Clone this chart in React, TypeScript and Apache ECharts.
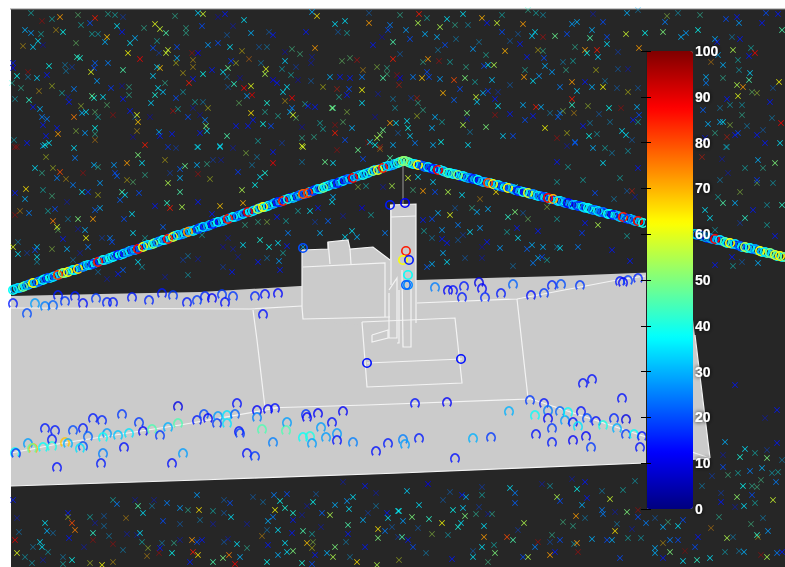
import React, { useEffect, useRef } from "react";
import * as echarts from "echarts";

type P = number[];

const barTicks = [0, 100];
const jetColors = ["#00007f", "#0000ff", "#007fff", "#00ffff", "#7fff7f", "#ffff00", "#ff7f00", "#ff0000", "#7f0000"];

const plotArea: P[] = [[11, 9], [785, 9], [785, 567], [11, 567]];
const frameLine: P[] = [[10, 9], [785, 9]];
const mastLine: P[] = [[403, 160], [403, 205]];
const groundArea: P[] = [[11, 296], [100, 294], [200, 292], [300, 286], [417, 280], [560, 276], [687, 271], [710, 458], [645, 463], [400, 473], [200, 480], [11, 486]];
const blockArea: P[] = [[302, 250], [328, 249], [328, 242], [348, 240], [350, 249], [373, 247], [390, 260], [390, 205], [416, 204], [416, 330], [302, 320]];

const whiteLines: P[][] = [
  [[11, 486], [200, 480], [400, 473], [645, 463], [710, 458]],
  [[11, 308], [250, 309], [302, 306]],
  [[417, 303], [517, 299], [617, 280], [645, 276]],
  [[253, 310], [257, 340], [265, 408]],
  [[517, 299], [528, 398]],
  [[265, 408], [367, 405], [530, 399]],
  [[11, 453], [63, 443], [180, 425], [277, 408]],
  [[528, 398], [640, 435], [710, 458]],
  [[695, 335], [710, 458]],
  [[362, 322], [455, 318], [462, 383], [367, 387], [362, 322]],
  [[367, 363], [462, 359]],
  [[390, 205], [416, 204], [416, 323]],
  [[391, 217], [416, 216]],
  [[391, 205], [391, 285]],
  [[402, 270], [403, 347], [411, 347], [411, 280]],
  [[389, 293], [389, 338], [397, 338], [397, 278], [389, 290]],
  [[397, 343], [399, 343], [399, 290]],
  [[372, 335], [388, 330], [388, 338], [372, 342], [372, 335]],
  [[302, 250], [328, 249], [328, 242], [348, 240], [350, 249], [373, 247], [390, 260]],
  [[302, 250], [302, 307], [303, 319], [390, 317]],
  [[303, 267], [385, 263], [385, 317]],
  [[328, 242], [330, 264]],
  [[350, 249], [351, 264]],
];

const crossBright: P[] = [
  [60,17,72],[25,30,30],[31,33,28],[38,41,35],[33,47,33],[63,32,38],[95,18,85],[90,23,20],[107,37,68],[105,42,30],[122,32,15],[117,26,35],[155,24,60],[160,29,58],[166,33,45],[168,50,58],[166,53,58],[130,43,35],[135,38,30],[128,53,62],[140,59,88],[177,47,20],[153,48,20],[208,45,28],[218,43,20],[230,47,35],[225,14,15],[203,14,58],[198,13,33],[202,26,20],[244,20,35],[251,33,30],[273,35,15],[306,32,15],[315,48,72],[317,16,65],[312,12,30],[335,24,35],[345,21,35],[369,23,72],[390,25,25],[388,30,20],[393,42,45],[373,45,15],
  [49,66,38],[95,63,22],[94,68,20],[91,72,60],[123,70,45],[108,63,25],[97,81,28],[47,75,15],[37,78,33],[13,63,15],[13,68,12],[17,76,38],[77,57,42],[80,58,40],[92,96,48],[103,97,35],[94,98,40],[29,100,42],[74,89,25],[69,102,15],[123,99,15],[111,88,18],
  [160,68,68],[157,67,33],[153,76,33],[158,88,35],[155,95,40],[163,92,32],[176,98,20],[177,58,30],[203,74,38],[193,79,15],[189,83,85],[198,53,12],[212,70,15],[228,68,48],[231,61,18],[223,72,35],[234,84,42],[251,86,60],[265,74,55],[266,69,60],[273,80,12],[277,83,15],[285,61,33],[287,87,35],[283,92,35],[244,88,88],[247,96,28],[252,95,90],[267,103,40],[292,98,88],[308,106,15],[330,77,30],[340,77,15],[350,78,15],[362,90,62],[362,77,25],[349,89,20],[347,95,15],[362,103,35],[333,108,45],[315,107,15],[393,59,85],[383,78,45],
  [40,109,30],[33,107,15],[42,117,25],[47,119,25],[43,125,15],[74,117,75],[82,113,30],[86,112,35],[57,128,15],[58,134,72],[46,136,15],[27,143,15],[43,146,30],[49,143,35],[85,133,28],[95,128,38],[130,111,15],[137,115,60],[138,122,68],[151,103,33],[188,117,20],[205,120,25],[206,126,50],[207,131,35],[200,133,15],[236,126,15],[248,126,15],[253,120,15],[251,113,65],[263,124,38],[271,126,20],[159,132,30],[160,136,15],[172,134,15],[292,108,25],[290,112,30],[293,115,60],[332,108,50],[352,128,30],[335,133,85],[383,130,48],[380,135,52],[377,138,55],[390,123,72],[393,145,30],[345,140,20],[370,142,35],[227,136,45],[220,146,35],[303,147,58],[145,145,85],
  [419,14,85],[418,23,55],[440,27,55],[447,19,35],[463,14,35],[482,18,70],[497,23,58],[523,24,72],[502,32,20],[487,23,15],[406,30,28],[410,39,20],[425,34,30],[437,37,30],[445,45,20],[473,49,28],[505,51,70],[520,44,15],[535,32,35],[532,36,33],[555,36,48],[567,34,20],[577,22,30],[572,24,28],[592,30,30],[590,38,45],[607,37,20],[626,34,58],[627,13,30],[603,22,20],[585,50,72],[587,53,38],[597,50,85],[598,57,33],[607,44,35],[639,48,72],[428,59,72],[494,65,55],[488,65,35],[484,66,20],[527,57,15],[544,58,20],[545,66,30],[552,72,28],[533,81,35],[524,77,72],[539,76,28],[427,72,20],[429,77,20],[413,77,25],[422,78,68],[440,79,28],[454,80,80],[465,78,50],[492,80,32],[400,78,12],
  [460,89,20],[483,93,30],[488,91,18],[443,93,70],[454,100,22],[476,97,58],[477,102,33],[495,99,15],[498,106,35],[560,87,25],[572,82,72],[577,91,33],[585,82,15],[592,87,30],[603,87,62],[572,99,85],[572,105,42],[536,107,85],[541,107,30],[523,105,30],[560,113,25],[558,117,22],[609,108,38],[637,107,30],[639,115,20],[633,120,15],[467,113,50],[435,117,30],[407,121,35],[396,123,35],[463,125,55],[432,128,30],[408,128,38],[410,136,33],[415,143,25],[433,145,30],[441,142,38],[468,145,35],[486,127,50],[503,136,33],[513,136,20],[545,128,62],[525,120,20],[533,116,15],[510,114,15],[583,126,15],[589,136,38],[575,142,25],[622,131,35],[626,135,35],
  [766,13,20],[778,14,15],[737,17,15],[739,23,28],[762,23,15],[726,19,20],[782,30,45],[686,33,28],[681,37,30],[698,30,38],[663,32,50],[665,22,25],[645,33,38],[715,39,30],[717,42,15],[740,39,15],[755,53,88],[749,56,15],[733,50,55],[718,55,30],[723,65,30],[750,73,33],[749,80,45],[737,85,55],[743,87,72],[738,96,60],[706,77,30],[706,83,25],[779,82,62],[770,102,15],[727,99,15],[723,122,35],[720,122,30],[708,124,30],[705,138,15],[781,123,88],[765,143,15],[780,143,35],[757,135,15],[738,133,20],[735,135,15],[703,110,22],
  [35,168,35],[60,172,80],[57,178,25],[73,185,25],[45,145,38],[74,148,35],[75,158,25],[114,165,28],[127,163,72],[94,165,30],[100,183,28],[115,173,20],[117,176,22],[138,155,50],[142,163,35],[168,183,55],[180,178,30],[185,166,48],[197,165,30],[180,169,22],[220,147,35],[198,147,35],[273,152,15],[260,177,35],[265,173,40],[238,172,18],[273,163,88],[302,146,60],[325,162,48],[333,163,35],[358,150,48],[363,159,20],[375,145,38],[390,158,45],
  [15,193,15],[26,189,65],[25,199,30],[53,221,75],[57,227,60],[55,209,20],[29,213,25],[82,192,35],[88,192,18],[122,192,45],[125,195,35],[139,193,20],[120,200,22],[132,214,35],[124,219,20],[93,219,72],[78,219,50],[100,208,30],[95,210,22],[155,206,15],[167,203,42],[182,207,55],[170,208,85],[198,202,15],[180,192,45],[86,238,62],[85,230,30],[110,238,25],[112,242,20],[88,247,25],[63,239,15],[67,249,30],[37,247,33],[18,254,35],[13,247,60],[35,250,20],[37,257,35],[138,262,35],[163,227,22],[133,233,35],[118,274,15],[123,270,22],
  [243,203,70],[212,214,15],[220,206,68],[255,185,38],[242,190,55],[277,217,15],[310,211,35],[333,197,30],[332,202,35],[328,221,22],[318,208,15],[320,233,30],[352,231,35],[357,237,30],[345,237,35],[385,233,25],[362,208,12],[260,240,40],[243,245,35],[278,243,35],[287,246,15],[269,247,38],[279,261,28],[232,272,15],[280,270,15],[258,262,15],[288,233,25],[303,247,30],
  [408,178,58],[418,177,35],[433,182,33],[448,192,55],[435,192,20],[423,191,72],[462,195,35],[496,192,65],[477,212,30],[488,209,30],[438,213,30],[432,219,20],[450,215,60],[423,220,15],[508,217,42],[515,212,50],[458,225,25],[480,228,28],[470,232,35],[518,238,35],[517,228,15],[442,230,28],[442,239,15],[447,243,15],[487,242,15],[500,248,28],[527,249,22],[532,245,30],[543,247,30],[538,231,15],[560,248,35],[578,247,25],[585,223,15],[582,233,18],[598,225,55],[612,250,15],[630,261,15],[538,258,30],[533,263,25],[432,264,30],[427,267,22],[443,253,30],[447,262,35],[542,257,20],[515,187,42],[557,162,15],[575,143,20],[593,148,30],[595,193,20],[603,163,35],[638,168,15],[758,160,30],[775,163,50],[757,180,18],[723,203,45],[735,203,30],[705,210,35],[710,218,35],[745,218,42],[782,205,42],[753,210,15],[732,257,15],[758,263,30],[715,265,15],[775,236,15],
  [13,500,15],[117,504,25],[138,506,45],[143,513,35],[167,503,25],[180,508,28],[197,495,28],[199,510,65],[230,503,20],[231,517,35],[163,521,20],[72,523,80],[75,530,75],[68,513,15],[45,523,35],[47,531,30],[40,542,35],[42,547,35],[15,540,90],[17,553,60],[93,533,42],[140,533,35],[69,538,15],[72,560,38],[102,565,62],[197,542,20],[192,540,72],[193,552,85],[198,555,65],[202,540,15],[229,555,75],[237,544,35],[240,557,30],[223,558,50],[235,564,88],[267,562,38],[274,495,25],[280,501,38],[287,494,20],[313,502,38],[275,510,62],[285,508,40],[293,513,40],[273,517,25],[268,521,30],[293,520,15],[278,530,35],[292,533,15],[303,531,45],[285,543,35],[307,543,68],[268,545,15],[335,505,30],[322,513,22],[330,515,55],[349,509,35],[347,501,28],[353,497,35],[365,486,15],[363,520,30],[388,518,35],[387,513,15],[398,511,35],[348,525,45],[348,534,15],[378,529,65],[385,531,25],[378,538,50],[365,547,15],[335,547,50],[327,553,30],[315,555,15],[333,557,55],[357,562,65],[293,551,50],[287,552,35],[278,555,30],[312,564,20],[302,563,40],[377,565,55],[190,562,15],[213,562,45],[172,553,38],[160,548,15],
  [407,491,33],[419,505,35],[428,484,12],[466,497,30],[462,495,15],[453,510,38],[463,508,33],[465,516,50],[461,523,35],[458,527,40],[442,523,62],[429,519,42],[412,517,50],[403,521,28],[399,511,38],[510,488,35],[515,493,25],[515,503,22],[557,497,55],[560,501,20],[577,489,38],[585,482,15],[587,498,15],[582,505,30],[610,499,58],[602,510,25],[603,514,25],[576,516,72],[627,512,50],[638,517,20],[646,523,25],[524,523,55],[484,526,35],[484,537,72],[482,547,35],[495,553,50],[402,537,45],[408,540,15],[413,547,20],[507,537,80],[513,540,45],[523,557,20],[528,557,55],[535,547,25],[550,555,72],[555,552,15],[560,540,20],[577,543,72],[592,539,30],[607,540,20],[612,540,30],[615,531,65],[452,559,15],[473,557,35],[620,558,20],[655,548,30],[663,527,30],[683,520,20],[678,526,35],[670,540,25],[678,540,20],[698,537,15],[695,547,20],[670,552,50],[655,553,30],[663,558,15],[697,560,42],[710,558,35],[727,538,55],[768,531,28],[757,535,42],[737,497,52],[744,506,35],[773,500,58],[752,495,20],[776,482,25],[743,486,38],[762,468,30],[750,471,25],[723,467,20],[721,502,15],[745,449,35],[740,457,40],[767,458,50],[777,443,15],[735,385,15],[777,410,15],[725,442,30],[767,557,55],[782,552,15],[744,552,30],[777,553,25],[683,561,35],
];

const crossDim: P[] = [
  [31,13,38],[78,15,48],[108,14,40],[115,15,38],[123,17,20],[42,21,92],[52,19,38],[81,25,38],[56,30,68],[41,34,38],[92,34,38],[98,34,35],[76,43,50],[23,46,68],[43,45,12],[144,28,42],[186,28,42],[186,33,42],[157,41,38],[175,16,42],[227,35,25],[233,26,15],[218,17,12],[269,32,25],[338,32,25],[347,33,38],[369,13,25],[382,37,12],[292,49,45],[300,54,45],[285,52,12],[242,51,65],[249,59,75],[192,53,92],[259,47,25],[267,47,30],[342,61,50],[350,58,48],[357,60,88],[363,70,70],[377,67,55],[387,68,42],[387,74,45],[397,75,92],[312,57,15],[311,63,15],[311,81,25],[298,80,12],[296,67,20],[282,69,35],[291,75,38],[261,63,30],[240,78,12],[227,77,30],[236,63,60],[323,87,62],[337,89,85],[339,97,40],[378,94,15],
  [66,71,30],[72,67,20],[28,72,92],[28,77,30],[65,65,30],[21,88,42],[39,91,68],[52,86,60],[12,83,40],[15,99,35],[62,93,38],[68,97,15],[81,106,58],[95,112,48],[98,117,38],[107,105,48],[113,115,92],[122,86,12],[129,87,42],[129,95,42],[165,83,42],[183,92,35],[195,102,38],[203,102,30],[208,108,62],[193,108,15],[200,115,12],[173,111,88],[178,109,38],[150,117,12],[135,117,25],[159,53,20],[193,60,68],[193,67,68],[183,73,65],[176,63,62],[228,87,25],[239,103,50],[285,101,68],[265,112,40],[278,116,40],[296,118,48],[305,104,40],[347,112,55],[375,117,12],[320,123,38],[323,129,38],[343,122,48],[302,127,12],[335,125,92],[314,137,42],[302,138,42],[258,141,38],[282,143,20],[233,148,15],[197,147,35],[168,147,15],[176,148,20],[137,131,68],[133,137,12],[76,131,55],[95,134,42],[14,140,35],[15,147,92],[95,140,72],[368,143,92],[380,147,85],
  [427,18,38],[400,15,42],[455,25,42],[468,25,33],[456,39,30],[479,42,30],[438,50,30],[486,55,40],[423,62,42],[439,61,90],[450,62,38],[400,54,25],[466,67,42],[525,70,40],[566,70,42],[563,62,30],[573,61,38],[575,47,42],[538,50,65],[543,51,42],[618,69,25],[628,69,15],[596,70,62],[605,81,30],[617,88,25],[638,88,25],[628,92,62],[510,85,25],[498,92,18],[475,82,38],[399,85,85],[393,99,30],[411,98,20],[417,98,85],[418,103,42],[395,108,35],[417,116,60],[423,110,42],[467,119,15],[442,122,38],[470,132,30],[495,115,90],[550,113,30],[563,111,55],[574,113,70],[588,106,58],[599,114,25],[621,108,92],[610,122,30],[638,122,38],[590,123,30],[567,133,62],[597,134,35],[557,138,90],[567,146,15],[632,140,25],[605,148,38],[398,133,25],[543,37,88],[518,34,25],[510,41,25],[502,15,38],[528,10,42],[536,13,38],[543,15,33],[593,14,15],[618,52,20],[638,10,30],[678,13,33],[667,16,55],[700,15,42],
  [732,37,30],[751,48,38],[738,60,38],[711,62,72],[739,70,35],[723,78,42],[752,92,50],[757,93,58],[730,105,35],[742,105,35],[720,108,30],[742,115,42],[772,118,30],[747,126,30],[763,130,25],[715,133,42],[727,137,85],[730,125,55],[726,147,33],[773,88,25],
  [17,147,92],[46,157,60],[53,168,60],[42,173,42],[66,179,68],[83,173,92],[98,167,42],[145,175,42],[127,180,65],[133,182,48],[165,160,65],[168,147,20],[207,164,42],[170,173,20],[198,174,90],[210,179,60],[213,160,20],[221,160,15],[257,157,30],[252,165,30],[246,153,55],[302,162,30],[337,150,92],[380,149,72],[43,190,38],[52,196,45],[98,195,62],[67,202,15],[20,211,70],[48,211,38],[68,219,30],[15,215,92],[58,230,50],[78,229,15],[102,238,20],[80,253,15],[27,253,20],[52,249,55],[18,242,30],[37,262,33],[73,260,28],[98,272,28],[107,279,15],[142,267,35],[188,256,30],[183,260,20],[198,259,15],[188,275,35],[165,277,15],[145,238,38],[202,235,38],[228,238,15],[223,247,12],[233,249,15],[238,257,15],[223,267,20],[267,258,28],[283,253,38],[245,225,42],[267,222,55],[258,222,42],[286,221,38],[298,211,38],[343,216,15],[371,215,38],[358,187,55],[366,186,38],[392,186,55],[383,187,15],[315,222,20],
  [413,190,45],[392,186,55],[480,199,70],[472,208,42],[455,208,25],[557,219,38],[523,213,25],[528,219,50],[547,207,55],[424,231,38],[432,238,30],[458,240,25],[463,235,20],[507,232,38],[557,247,30],[482,247,12],[465,258,25],[482,258,15],[547,260,38],[513,266,28],[627,236,38],[614,199,30],[627,191,25],[632,191,85],[635,197,15],[568,167,38],[557,182,38],[612,153,30],[628,151,35],[620,178,38],[583,180,38],[702,157,85],[722,159,15],[727,147,35],[763,168,42],[745,168,38],[728,173,15],[720,180,30],[757,183,50],[773,183,35],[740,192,55],[718,197,38],[767,205,35],[767,225,38],[740,223,20],[715,230,35],[733,266,38],[742,262,25],
  [113,500,38],[135,500,15],[152,506,30],[154,500,15],[188,510,42],[213,511,38],[224,500,25],[224,513,25],[200,520,30],[180,524,25],[213,524,15],[247,524,15],[253,497,25],[263,502,28],[126,518,70],[90,517,38],[104,516,25],[95,523,15],[104,526,28],[68,517,60],[17,518,15],[19,532,28],[53,533,28],[109,536,30],[127,534,15],[137,535,15],[93,540,92],[33,547,30],[48,552,35],[63,557,30],[84,547,15],[113,544,92],[123,550,30],[142,542,38],[148,548,58],[147,556,70],[162,543,30],[159,553,92],[174,543,42],[180,540,15],[228,539,15],[224,542,25],[247,548,42],[262,536,70],[267,530,28],[312,534,38],[321,527,15],[312,548,62],[313,542,55],[346,542,30],[350,557,30],[113,562,68],[90,563,60],[63,564,38],[43,560,15],[32,563,35],[25,557,35],[376,493,15],[376,506,30],[368,513,20],[343,482,15],[307,506,15],[316,494,25],[302,515,15],
  [450,492,25],[443,500,25],[479,507,20],[476,514,42],[492,514,42],[488,514,15],[448,535,35],[432,534,55],[418,528,25],[392,527,25],[398,537,20],[518,530,20],[494,545,38],[473,551,25],[426,553,30],[399,560,60],[488,562,45],[538,542,90],[550,542,22],[578,552,90],[574,544,35],[552,535,42],[563,522,45],[573,526,42],[585,518,30],[635,481,35],[623,490,38],[602,491,30],[572,479,15],[550,486,35],[542,484,15],[482,487,20],[482,495,38],[638,510,92],[615,512,15],[655,518,25],[668,522,45],[632,529,15],[617,524,30],[628,538,38],[641,538,35],[663,543,68],[685,551,95],[711,528,72],[719,517,42],[725,552,35],[751,524,45],[763,518,30],[758,537,68],[761,555,92],[739,551,30],[733,537,30],[702,486,30],[712,476,20],[721,493,20],[738,473,38],[728,475,45],[757,487,45],[761,480,45],[752,486,42],[755,503,38],[735,507,15],[767,450,20],[755,453,38],[723,455,15],[765,418,15],[778,472,38],[772,473,35],[782,460,30],
];

const ribbonRingsBack: P[] = [
  [15,289,30],[20,288,25],[25,286,40],[30,284,20],[35,283,35],[40,281,15],[45,279,30],[50,278,38],[55,276,22],[60,274,30],[65,273,42],[70,271,20],[75,270,35],[80,268,15],[85,266,38],[90,265,28],[95,263,35],[100,261,15],[105,260,30],[110,258,38],[115,256,22],[120,255,40],[125,253,18],[130,251,35],[135,250,28],[140,248,15],[145,246,35],[150,245,25],[155,243,40],[160,241,18],[165,240,30],[170,238,20],[175,236,42],[180,235,15],[185,233,35],[190,231,25],[195,230,38],[200,228,22],[205,227,15],[210,225,35],[215,223,28],[220,222,15],[225,220,35],[230,218,20],[235,217,30],[240,215,15],[245,213,25],[250,212,38],[255,210,20],[260,208,30],[265,207,40],[270,205,15],[275,203,35],[280,202,22],[285,200,30],[290,198,15],[295,197,38],[300,195,25],[305,194,20],[310,192,35],[315,190,15],[320,189,30],[325,187,38],[330,185,20],[335,184,35],[340,182,25],[345,180,15],[350,179,30],[355,177,38],[360,175,22],[365,174,35],[370,172,18],[375,170,30],[380,169,25],[385,167,38],[390,166,20],[395,164,35],[400,162,45],
  [405,161,50],[410,163,42],[415,164,30],[420,165,15],[425,167,25],[430,168,20],[435,169,30],[440,170,38],[445,172,25],[450,173,35],[455,174,28],[460,176,15],[465,177,38],[470,178,20],[475,179,30],[480,181,15],[485,182,25],[490,183,35],[495,185,18],[500,186,30],[505,187,38],[510,188,20],[515,190,35],[520,191,25],[525,192,15],[530,194,30],[535,195,38],[540,196,22],[545,197,30],[550,199,35],[555,200,15],[560,201,38],[565,203,25],[570,204,20],[575,205,35],[580,206,15],[585,208,30],[590,209,38],[595,210,20],[600,212,30],[605,213,15],[610,214,35],[615,215,25],[620,217,35],[625,218,20],[630,219,38],[635,221,30],[640,222,35],
  [697,235,25],[702,236,38],[707,238,15],[712,239,25],[717,240,30],[722,241,20],[727,243,38],[732,244,28],[737,245,15],[742,247,35],[747,248,42],[752,249,20],[757,250,30],[762,252,38],[767,253,45],[772,254,30],[777,256,40],[782,257,35],
];

const ribbonRings: P[] = [
  [13,290,38],[18,288,35],[23,287,48],[28,285,30],[33,283,62],[38,282,25],[43,280,38],[48,278,20],[53,277,35],[58,275,82],[63,273,55],[68,272,62],[73,270,38],[78,269,66],[83,267,25],[88,265,35],[93,264,18],[98,262,85],[103,260,40],[108,259,30],[113,257,38],[118,255,15],[123,254,35],[128,252,28],[133,250,22],[138,249,88],[143,247,60],[148,245,35],[153,244,50],[158,242,28],[163,240,38],[168,239,85],[173,237,58],[178,235,35],[183,234,28],[188,232,72],[193,231,35],[198,229,18],[203,227,35],[208,226,28],[213,224,15],[218,222,38],[223,221,30],[228,219,85],[233,217,38],[238,216,25],[243,214,35],[248,212,90],[253,211,35],[258,209,55],[263,207,62],[268,206,38],[273,204,28],[278,202,15],[283,201,85],[288,199,40],[293,198,30],[298,196,20],[303,194,78],[308,193,82],[313,191,18],[318,189,35],[323,188,48],[328,186,38],[333,184,25],[338,183,15],[343,181,35],[348,179,22],[353,178,88],[358,176,30],[363,175,40],[368,173,35],[373,171,50],[378,170,60],[383,168,85],[388,166,35],[393,165,30],[398,163,40],[403,161,52],
  [408,162,48],[413,164,38],[418,165,62],[423,166,20],[428,167,35],[433,169,15],[438,170,88],[443,171,35],[448,173,45],[453,174,38],[458,175,50],[463,176,35],[468,178,28],[473,179,15],[478,180,38],[483,182,30],[488,183,80],[493,184,60],[498,185,35],[503,187,20],[508,188,62],[513,189,30],[518,191,15],[523,192,40],[528,193,58],[533,194,25],[538,196,35],[543,197,18],[548,198,88],[553,199,70],[558,201,35],[563,202,28],[568,203,12],[573,205,30],[578,206,18],[583,207,35],[588,208,38],[593,210,25],[598,211,35],[603,212,22],[608,214,38],[613,215,15],[618,216,30],[623,217,85],[628,219,18],[633,220,28],[638,221,88],[643,223,40],
  [695,234,35],[700,235,15],[705,237,28],[710,238,30],[715,239,88],[720,240,35],[725,242,45],[730,243,62],[735,244,35],[740,246,20],[745,247,55],[750,248,38],[755,249,28],[760,251,62],[765,252,35],[770,253,50],[775,255,58],[780,256,62],[785,257,48],
];

const towerRings: P[] = [
  [406,251,85],[403,260,62],[409,260,15],[408,275,38],[408,285,26],[406,285,22],[367,363,14],[461,359,14],[303,248,20],[390,205,15],[405,203,12],
];

const groundRings: P[] = [
  [13,303,15],[27,313,20],[35,303,28],[45,306,25],[53,305,22],[58,295,15],[65,301,18],[75,296,15],[83,303,14],[96,298,18],[107,302,16],[113,302,15],[132,297,15],[149,300,16],[162,293,15],[173,295,18],[187,302,15],[197,300,18],[205,296,16],[212,298,12],[222,294,18],[225,302,14],[233,296,18],[255,296,16],[265,294,14],[278,293,13],[263,314,14],
  [435,287,25],[448,290,12],[453,290,14],[464,286,15],[479,282,10],[482,288,13],[462,297,15],[485,297,16],[501,293,15],[513,284,22],[531,295,14],[544,293,18],[552,285,16],[561,284,20],[580,285,18],[620,281,15],[628,280,18],[638,278,16],[623,282,12],
  [15,452,38],[16,453,18],[28,443,28],[33,448,70],[32,448,48],[43,447,38],[52,446,40],[45,428,15],[55,430,15],[52,439,15],[65,442,68],[68,443,30],[73,430,20],[83,428,15],[88,436,22],[83,446,20],[80,448,35],[103,453,25],[101,463,15],[57,467,14],[93,418,15],[102,420,16],[122,414,18],[107,433,28],[103,437,38],[118,435,32],[129,433,35],[139,422,18],[143,431,12],[124,447,14],[152,429,45],[160,435,18],[168,427,30],[178,423,45],[178,406,10],[183,453,28],[172,463,14],[197,420,15],[204,414,20],[208,418,12],[217,423,18],[218,416,28],[227,423,35],[227,415,35],[235,414,22],[237,403,14],[239,431,14],[240,433,18],[247,453,14],[255,456,18],[257,410,12],[257,417,25],[262,429,45],[273,442,25],[268,409,12],[275,408,14],[286,430,45],[287,422,28],[306,414,18],[307,417,12],[318,413,12],[321,427,28],[332,422,14],[343,411,12],[303,437,38],[310,436,40],[312,443,28],[326,437,28],[337,433,28],[337,440,14],[353,442,25],[376,451,14],[388,443,15],
  [415,403,14],[447,402,12],[403,439,25],[405,444,28],[419,438,15],[455,458,14],[473,438,30],[491,437,18],[509,411,30],[530,400,18],[535,415,38],[536,434,14],[544,403,14],[548,410,25],[548,418,12],[552,428,18],[552,442,15],[560,411,22],[565,420,28],[568,412,38],[573,422,14],[573,440,12],[581,411,14],[578,426,35],[587,418,20],[596,421,14],[603,425,40],[586,436,12],[591,447,18],[614,418,16],[617,428,30],[626,419,10],[626,434,18],[634,434,38],[642,436,14],[640,447,14],[622,398,14],[592,379,14],[583,383,14],
];

const crossSymbol = "path://M0 1 L1 0 L5 4 L9 0 L10 1 L6 5 L10 9 L9 10 L5 6 L1 10 L0 9 L4 5 Z";
const ringSymbol = "path://M0 5 A5 5 0 1 1 10 5 A5 5 0 1 1 0 5 Z M1.6 5 A3.4 3.4 0 1 0 8.4 5 A3.4 3.4 0 1 0 1.6 5 Z";
const archSymbol = "path://M1.5 8.5 A5 5 0 1 1 8.5 8.5 L7.2 7.2 A3.2 3.2 0 1 0 2.8 7.2 Z";

function polygonSeries(points: P[], fill: string, z: number) {
  return {
    type: "custom",
    silent: true,
    z,
    clip: false,
    data: [[0]],
    renderItem: (_: any, api: any) => ({
      type: "polygon",
      shape: { points: points.map((p) => api.coord(p)) },
      style: { fill },
    }),
  };
}

function linesSeries(lines: P[][], stroke: string, width: number, z: number) {
  return {
    type: "custom",
    silent: true,
    z,
    clip: false,
    data: lines.map((_, i) => [i]),
    renderItem: (params: any, api: any) => ({
      type: "polyline",
      shape: { points: lines[params.dataIndex].map((p) => api.coord(p)) },
      style: { stroke, lineWidth: width, fill: "none" },
    }),
  };
}

function pointSeries(data: P[], symbol: string, size: number, z: number, opacity = 1) {
  return {
    type: "scatter",
    silent: true,
    z,
    data,
    symbol,
    symbolSize: size,
    itemStyle: { opacity },
    clip: false,
  };
}

export default function App() {
  const ref = useRef<HTMLDivElement>(null);
  useEffect(() => {
    const chart = echarts.init(ref.current!, undefined, { renderer: "svg" });
    const baseSeries = [
      polygonSeries(plotArea, "#262626", 0),
      polygonSeries(groundArea, "#cbcbcb", 1),
      polygonSeries(blockArea, "#cbcbcb", 1),
      linesSeries([frameLine], "#8c8c8c", 1, 1),
      linesSeries([mastLine], "#9a9a9a", 1, 1),
      linesSeries(whiteLines, "#f4f4f4", 1.2, 1),
    ];
    const marks = [
      pointSeries(crossDim, crossSymbol, 6, 2, 0.45),
      pointSeries(crossBright, crossSymbol, 6, 2, 0.85),
      pointSeries(ribbonRingsBack, ringSymbol, 10, 3, 1),
      pointSeries(ribbonRings, ringSymbol, 10, 3, 1),
      pointSeries(towerRings, ringSymbol, 10, 3, 1),
      pointSeries(groundRings, archSymbol, 10, 3, 0.8),
    ];
    chart.setOption({
      animation: false,
      grid: [
        { left: 0, top: 0, width: 785, height: 567, show: false },
        { left: 646, top: 51, width: 47, height: 458, show: false },
      ],
      xAxis: [
        { type: "value", min: 0, max: 785, show: false, gridIndex: 0 },
        { type: "value", min: 0, max: 1, show: false, gridIndex: 1 },
      ],
      yAxis: [
        { type: "value", min: 0, max: 567, inverse: true, show: false, gridIndex: 0 },
        {
          type: "value", gridIndex: 1, min: barTicks[0], max: barTicks[1], interval: 10, position: "right", z: 10,
          axisLine: { show: true, lineStyle: { color: "#222", width: 1 } },
          axisTick: { show: true, inside: true, length: 5, lineStyle: { color: "#000", width: 1 } },
          splitLine: { show: false },
          axisLabel: {
            show: true, color: "#ffffff", fontFamily: "Liberation Sans", fontWeight: "bold", fontSize: 14, margin: 2,
            textShadowColor: "#000", textShadowBlur: 4,
          },
        },
        {
          type: "value", gridIndex: 1, min: barTicks[0], max: barTicks[1], interval: 10, position: "left", z: 10,
          axisLine: { show: true, lineStyle: { color: "#222", width: 1 } },
          axisTick: { show: true, inside: true, length: 5, lineStyle: { color: "#000", width: 1 } },
          splitLine: { show: false },
          axisLabel: { show: false },
        },
      ],
      visualMap: {
        type: "continuous",
        min: 0,
        max: 100,
        dimension: 2,
        seriesIndex: marks.map((_, i) => baseSeries.length + i),
        calculable: false,
        hoverLink: false,
        left: 646,
        top: 51,
        padding: 0,
        itemWidth: 47,
        itemHeight: 458,
        text: ["", ""],
        showLabel: false,
        inRange: { color: jetColors },
      },
      series: [...baseSeries, ...marks],
    });
    return () => chart.dispose();
  }, []);
  return (
    <div
      ref={ref}
      style={{ position: "absolute", left: 0, top: 0, width: 785, height: 567, background: "#fff", filter: "blur(0.6px)" }}
    />
  );
}
